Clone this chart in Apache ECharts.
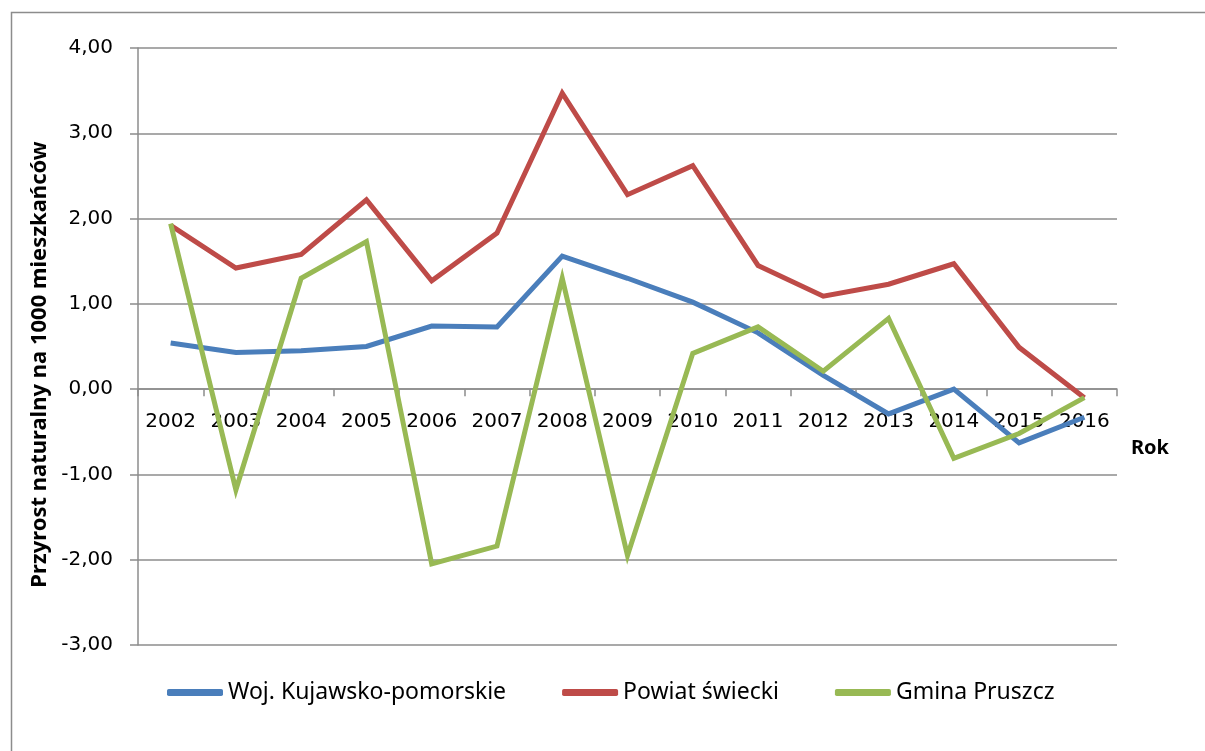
<!DOCTYPE html>
<html>
<head>
<meta charset="utf-8">
<script src="https://cdn.jsdelivr.net/npm/echarts@6/dist/echarts.min.js"></script>
<style>
  html, body { margin: 0; padding: 0; background: #fff; }
  #chart { width: 1205px; height: 751px; }
</style>
</head>
<body>
<div id="chart"></div>
<script>
// lata
const years = ['2002', '2003', '2004', '2005', '2006', '2007', '2008', '2009',
  '2010', '2011', '2012', '2013', '2014', '2015', '2016'];

// przyrost naturalny na 1000 mieszkańców
const wojKujawsko = [0.54, 0.43, 0.45, 0.50, 0.74, 0.73, 1.56, 1.30, 1.02, 0.66, 0.16, -0.29, 0.00, -0.63, -0.33];
const powiatSwiecki = [1.92, 1.42, 1.58, 2.22, 1.27, 1.83, 3.47, 2.28, 2.62, 1.45, 1.09, 1.23, 1.47, 0.49, -0.10];
const gminaPruszcz = [1.94, -1.18, 1.30, 1.73, -2.05, -1.84, 1.30, -1.95, 0.42, 0.73, 0.21, 0.83, -0.81, -0.52, -0.10];

// skala osi Y
const yMin = -3;
const yMax = 4;
const yStep = 1;

const seriesNames = ['Woj. Kujawsko-pomorskie', 'Powiat świecki', 'Gmina Pruszcz'];
const colors = ['#4a7ebb', '#be4b48', '#98b954'];

const chart = echarts.init(document.getElementById('chart'));

// wysokość obszaru wykresu i położenie zera -> przesunięcie osi X
const gridTop = 48;
const gridBottom = 106;
const plotH = 751 - gridTop - gridBottom;
const zeroOffset = -plotH * (0 - yMin) / (yMax - yMin);

const lineSeries = (name, data, color) => ({
  name: name,
  type: 'line',
  data: data,
  symbol: 'none',
  lineStyle: { color: color, width: 5, join: 'miter' },
  itemStyle: { color: color }
});

const option = {
  animation: false,
  color: colors,
  grid: {
    left: 138,
    right: 88,
    top: gridTop,
    bottom: gridBottom
  },
  legend: {
    top: 676,
    left: 162,
    itemWidth: 56,
    itemHeight: 7,
    itemGap: 56,
    icon: 'roundRect',
    textStyle: {
      fontFamily: 'Noto Sans',
      fontSize: 23,
      color: '#000'
    },
    data: seriesNames
  },
  xAxis: {
    type: 'category',
    data: years,
    position: 'bottom',
    offset: zeroOffset,
    axisLine: { onZero: false, lineStyle: { color: '#8c8c8c', width: 1.5 } },
    axisTick: { show: true, length: 7, lineStyle: { color: '#8c8c8c', width: 1.5 } },
    axisLabel: {
      interval: 0,
      margin: 23,
      fontFamily: 'DejaVu Sans',
      fontSize: 20,
      color: '#000'
    },
    splitLine: { show: false }
  },
  yAxis: {
    type: 'value',
    min: yMin,
    max: yMax,
    interval: yStep,
    name: 'Przyrost naturalny na 1000 mieszkańców',
    nameLocation: 'middle',
    nameRotate: 90,
    nameGap: 84,
    nameTextStyle: {
      fontFamily: 'Noto Sans',
      fontWeight: 'bold',
      fontSize: 22,
      color: '#000',
      padding: [0, 36, 0, 0]
    },
    axisLine: { show: true, lineStyle: { color: '#8c8c8c', width: 1.5 } },
    axisTick: { show: true, length: 8, lineStyle: { color: '#8c8c8c', width: 1.5 } },
    axisLabel: {
      margin: 25,
      fontFamily: 'DejaVu Sans',
      fontSize: 20,
      color: '#000',
      formatter: v => v.toFixed(2).replace('.', ',')
    },
    splitLine: { lineStyle: { color: '#8c8c8c', width: 1.5 } }
  },
  graphic: [
    {
      type: 'rect',
      silent: true,
      shape: { x: 11.5, y: 12.5, width: 1200, height: 760 },
      style: { fill: 'none', stroke: '#8c8c8c', lineWidth: 1.5 }
    },
    {
      type: 'text',
      left: 1131,
      top: 438,
      style: {
        text: 'Rok',
        fontFamily: 'Noto Sans',
        fontWeight: 'bold',
        fontSize: 20,
        fill: '#000'
      }
    }
  ],
  series: [
    lineSeries(seriesNames[0], wojKujawsko, colors[0]),
    lineSeries(seriesNames[1], powiatSwiecki, colors[1]),
    lineSeries(seriesNames[2], gminaPruszcz, colors[2])
  ]
};

chart.setOption(option);
</script>
</body>
</html>
